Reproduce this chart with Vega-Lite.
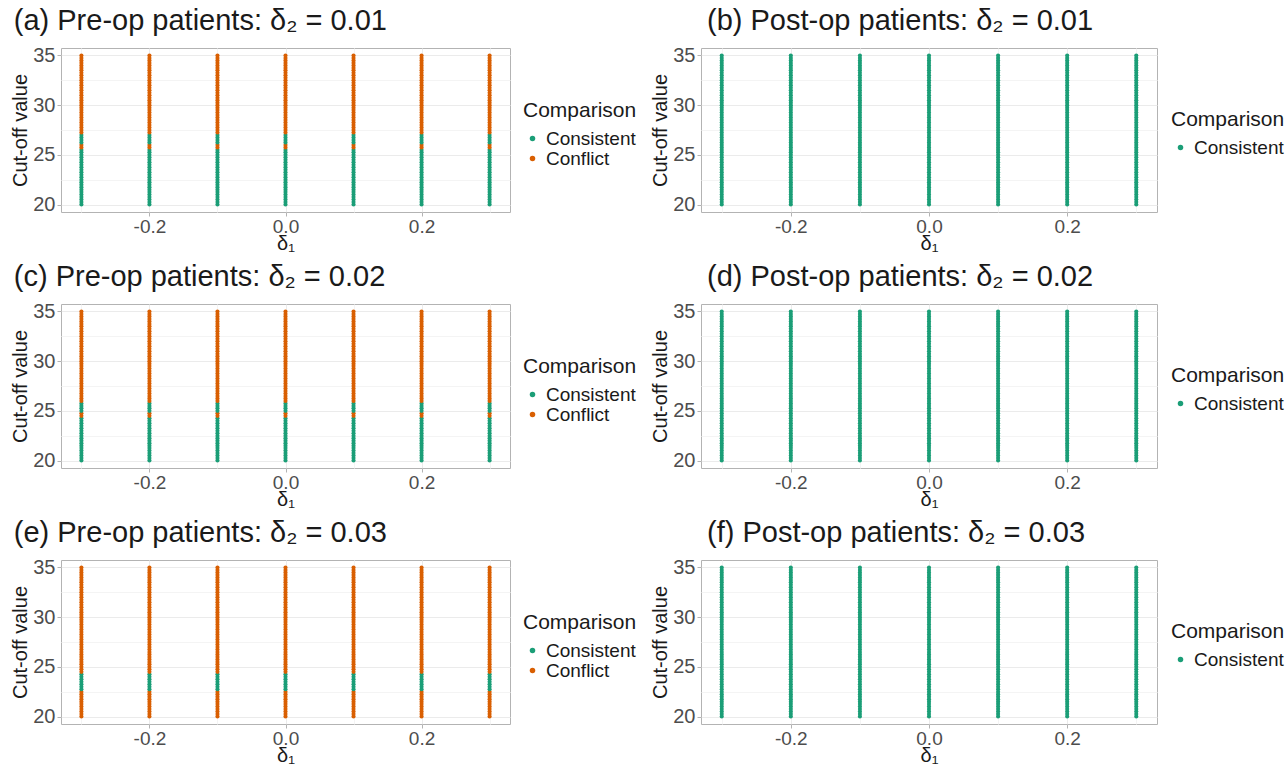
{
  "$schema": "https://vega.github.io/schema/vega-lite/v6.json",
  "padding": {"left": 10, "top": 6, "right": 0, "bottom": 0},
  "background": "white",
  "data": {"values": [
    {"panel": "a", "Comparison": "Consistent", "delta1": [-0.3, -0.2, -0.1, 0, 0.1, 0.2, 0.3], "cutoff": [20, 20.25, 20.5, 20.75, 21, 21.25, 21.5, 21.75, 22, 22.25, 22.5, 22.75, 23, 23.25, 23.5, 23.75, 24, 24.25, 24.5, 24.75, 25, 25.25, 25.5]},
    {"panel": "a", "Comparison": "Conflict", "delta1": [-0.3, -0.2, -0.1, 0, 0.1, 0.2, 0.3], "cutoff": [25.75, 26]},
    {"panel": "a", "Comparison": "Consistent", "delta1": [-0.3, -0.2, -0.1, 0, 0.1, 0.2, 0.3], "cutoff": [26.25, 26.5, 26.75, 27]},
    {"panel": "a", "Comparison": "Conflict", "delta1": [-0.3, -0.2, -0.1, 0, 0.1, 0.2, 0.3], "cutoff": [27.25, 27.5, 27.75, 28, 28.25, 28.5, 28.75, 29, 29.25, 29.5, 29.75, 30, 30.25, 30.5, 30.75, 31, 31.25, 31.5, 31.75, 32, 32.25, 32.5, 32.75, 33, 33.25, 33.5, 33.75, 34, 34.25, 34.5, 34.75, 35]},
    {"panel": "c", "Comparison": "Consistent", "delta1": [-0.3, -0.2, -0.1, 0, 0.1, 0.2, 0.3], "cutoff": [20, 20.25, 20.5, 20.75, 21, 21.25, 21.5, 21.75, 22, 22.25, 22.5, 22.75, 23, 23.25, 23.5, 23.75, 24, 24.25]},
    {"panel": "c", "Comparison": "Conflict", "delta1": [-0.3, -0.2, -0.1, 0, 0.1, 0.2, 0.3], "cutoff": [24.5, 24.75]},
    {"panel": "c", "Comparison": "Consistent", "delta1": [-0.3, -0.2, -0.1, 0, 0.1, 0.2, 0.3], "cutoff": [25, 25.25, 25.5, 25.75]},
    {"panel": "c", "Comparison": "Conflict", "delta1": [-0.3, -0.2, -0.1, 0, 0.1, 0.2, 0.3], "cutoff": [26, 26.25, 26.5, 26.75, 27, 27.25, 27.5, 27.75, 28, 28.25, 28.5, 28.75, 29, 29.25, 29.5, 29.75, 30, 30.25, 30.5, 30.75, 31, 31.25, 31.5, 31.75, 32, 32.25, 32.5, 32.75, 33, 33.25, 33.5, 33.75, 34, 34.25, 34.5, 34.75, 35]},
    {"panel": "e", "Comparison": "Conflict", "delta1": [-0.3, -0.2, -0.1, 0, 0.1, 0.2, 0.3], "cutoff": [20, 20.25, 20.5, 20.75, 21, 21.25, 21.5, 21.75, 22, 22.25, 22.5]},
    {"panel": "e", "Comparison": "Consistent", "delta1": [-0.3, -0.2, -0.1, 0, 0.1, 0.2, 0.3], "cutoff": [22.75, 23, 23.25, 23.5, 23.75, 24, 24.25]},
    {"panel": "e", "Comparison": "Conflict", "delta1": [-0.3, -0.2, -0.1, 0, 0.1, 0.2, 0.3], "cutoff": [24.5, 24.75, 25, 25.25, 25.5, 25.75, 26, 26.25, 26.5, 26.75, 27, 27.25, 27.5, 27.75, 28, 28.25, 28.5, 28.75, 29, 29.25, 29.5, 29.75, 30, 30.25, 30.5, 30.75, 31, 31.25, 31.5, 31.75, 32, 32.25, 32.5, 32.75, 33, 33.25, 33.5, 33.75, 34, 34.25, 34.5, 34.75, 35]},
    {"panel": "b", "Comparison": "Consistent", "delta1": [-0.3, -0.2, -0.1, 0, 0.1, 0.2, 0.3], "cutoff": [20, 20.25, 20.5, 20.75, 21, 21.25, 21.5, 21.75, 22, 22.25, 22.5, 22.75, 23, 23.25, 23.5, 23.75, 24, 24.25, 24.5, 24.75, 25, 25.25, 25.5, 25.75, 26, 26.25, 26.5, 26.75, 27, 27.25, 27.5, 27.75, 28, 28.25, 28.5, 28.75, 29, 29.25, 29.5, 29.75, 30, 30.25, 30.5, 30.75, 31, 31.25, 31.5, 31.75, 32, 32.25, 32.5, 32.75, 33, 33.25, 33.5, 33.75, 34, 34.25, 34.5, 34.75, 35]},
    {"panel": "d", "Comparison": "Consistent", "delta1": [-0.3, -0.2, -0.1, 0, 0.1, 0.2, 0.3], "cutoff": [20, 20.25, 20.5, 20.75, 21, 21.25, 21.5, 21.75, 22, 22.25, 22.5, 22.75, 23, 23.25, 23.5, 23.75, 24, 24.25, 24.5, 24.75, 25, 25.25, 25.5, 25.75, 26, 26.25, 26.5, 26.75, 27, 27.25, 27.5, 27.75, 28, 28.25, 28.5, 28.75, 29, 29.25, 29.5, 29.75, 30, 30.25, 30.5, 30.75, 31, 31.25, 31.5, 31.75, 32, 32.25, 32.5, 32.75, 33, 33.25, 33.5, 33.75, 34, 34.25, 34.5, 34.75, 35]},
    {"panel": "f", "Comparison": "Consistent", "delta1": [-0.3, -0.2, -0.1, 0, 0.1, 0.2, 0.3], "cutoff": [20, 20.25, 20.5, 20.75, 21, 21.25, 21.5, 21.75, 22, 22.25, 22.5, 22.75, 23, 23.25, 23.5, 23.75, 24, 24.25, 24.5, 24.75, 25, 25.25, 25.5, 25.75, 26, 26.25, 26.5, 26.75, 27, 27.25, 27.5, 27.75, 28, 28.25, 28.5, 28.75, 29, 29.25, 29.5, 29.75, 30, 30.25, 30.5, 30.75, 31, 31.25, 31.5, 31.75, 32, 32.25, 32.5, 32.75, 33, 33.25, 33.5, 33.75, 34, 34.25, 34.5, 34.75, 35]}
  ]},
  "vconcat": [
    {"hconcat": [
      {"title": {"text": "(a) Pre-op patients: δ₂ = 0.01", "frame": "bounds", "dx": 3},
       "width": 449, "height": 164,
       "transform": [{"filter": "datum.panel == 'a'"}, {"flatten": ["delta1"]}, {"flatten": ["cutoff"]}],
       "mark": {"type": "circle", "size": 17, "opacity": 1},
       "encoding": {
         "x": {"field": "delta1", "type": "quantitative", "scale": {"domain": [-0.33, 0.33], "nice": false, "zero": false}, "axis": {"title": "δ₁", "values": [-0.3, -0.2, -0.1, 0, 0.1, 0.2, 0.3], "labelExpr": "abs(round(datum.value*10)) % 2 == 0 ? replace(format(datum.value, '.1f'), '−', '-') : ''", "gridColor": {"condition": {"test": "abs(round(datum.value*10)) % 2 == 0", "value": "#ebebeb"}, "value": "#f4f4f4"}, "tickOpacity": {"condition": {"test": "abs(round(datum.value*10)) % 2 == 0", "value": 1}, "value": 0}}},
         "y": {"field": "cutoff", "type": "quantitative", "scale": {"domain": [19.25, 35.75], "nice": false, "zero": false}, "axis": {"title": "Cut-off value", "values": [20, 22.5, 25, 27.5, 30, 32.5, 35], "labelExpr": "datum.value % 5 == 0 ? datum.label : ''", "gridColor": {"condition": {"test": "datum.value % 5 == 0", "value": "#ebebeb"}, "value": "#f4f4f4"}, "tickOpacity": {"condition": {"test": "datum.value % 5 == 0", "value": 1}, "value": 0}}},
         "color": {"field": "Comparison", "type": "nominal", "scale": {"domain": ["Consistent", "Conflict"], "range": ["#1B9E77", "#D95F02"]}, "legend": {"orient": "none", "legendX": 462, "legendY": 52}}
       }},
      {"title": {"text": "(b) Post-op patients: δ₂ = 0.01", "frame": "group", "dx": 6},
       "width": 456, "height": 164,
       "transform": [{"filter": "datum.panel == 'b'"}, {"flatten": ["delta1"]}, {"flatten": ["cutoff"]}],
       "mark": {"type": "circle", "size": 17, "opacity": 1},
       "encoding": {
         "x": {"field": "delta1", "type": "quantitative", "scale": {"domain": [-0.33, 0.33], "nice": false, "zero": false}, "axis": {"title": "δ₁", "values": [-0.3, -0.2, -0.1, 0, 0.1, 0.2, 0.3], "labelExpr": "abs(round(datum.value*10)) % 2 == 0 ? replace(format(datum.value, '.1f'), '−', '-') : ''", "gridColor": {"condition": {"test": "abs(round(datum.value*10)) % 2 == 0", "value": "#ebebeb"}, "value": "#f4f4f4"}, "tickOpacity": {"condition": {"test": "abs(round(datum.value*10)) % 2 == 0", "value": 1}, "value": 0}}},
         "y": {"field": "cutoff", "type": "quantitative", "scale": {"domain": [19.25, 35.75], "nice": false, "zero": false}, "axis": {"title": "Cut-off value", "values": [20, 22.5, 25, 27.5, 30, 32.5, 35], "labelExpr": "datum.value % 5 == 0 ? datum.label : ''", "gridColor": {"condition": {"test": "datum.value % 5 == 0", "value": "#ebebeb"}, "value": "#f4f4f4"}, "tickOpacity": {"condition": {"test": "datum.value % 5 == 0", "value": 1}, "value": 0}}},
         "color": {"field": "Comparison", "type": "nominal", "scale": {"domain": ["Consistent"], "range": ["#1B9E77"]}, "legend": {"orient": "none", "legendX": 470, "legendY": 61}}
       }}
    ], "resolve": {"scale": {"color": "independent"}, "legend": {"color": "independent"}}},
    {"hconcat": [
      {"title": {"text": "(c) Pre-op patients: δ₂ = 0.02", "frame": "bounds", "dx": 3},
       "width": 449, "height": 164,
       "transform": [{"filter": "datum.panel == 'c'"}, {"flatten": ["delta1"]}, {"flatten": ["cutoff"]}],
       "mark": {"type": "circle", "size": 17, "opacity": 1},
       "encoding": {
         "x": {"field": "delta1", "type": "quantitative", "scale": {"domain": [-0.33, 0.33], "nice": false, "zero": false}, "axis": {"title": "δ₁", "values": [-0.3, -0.2, -0.1, 0, 0.1, 0.2, 0.3], "labelExpr": "abs(round(datum.value*10)) % 2 == 0 ? replace(format(datum.value, '.1f'), '−', '-') : ''", "gridColor": {"condition": {"test": "abs(round(datum.value*10)) % 2 == 0", "value": "#ebebeb"}, "value": "#f4f4f4"}, "tickOpacity": {"condition": {"test": "abs(round(datum.value*10)) % 2 == 0", "value": 1}, "value": 0}}},
         "y": {"field": "cutoff", "type": "quantitative", "scale": {"domain": [19.25, 35.75], "nice": false, "zero": false}, "axis": {"title": "Cut-off value", "values": [20, 22.5, 25, 27.5, 30, 32.5, 35], "labelExpr": "datum.value % 5 == 0 ? datum.label : ''", "gridColor": {"condition": {"test": "datum.value % 5 == 0", "value": "#ebebeb"}, "value": "#f4f4f4"}, "tickOpacity": {"condition": {"test": "datum.value % 5 == 0", "value": 1}, "value": 0}}},
         "color": {"field": "Comparison", "type": "nominal", "scale": {"domain": ["Consistent", "Conflict"], "range": ["#1B9E77", "#D95F02"]}, "legend": {"orient": "none", "legendX": 462, "legendY": 52}}
       }},
      {"title": {"text": "(d) Post-op patients: δ₂ = 0.02", "frame": "group", "dx": 6},
       "width": 456, "height": 164,
       "transform": [{"filter": "datum.panel == 'd'"}, {"flatten": ["delta1"]}, {"flatten": ["cutoff"]}],
       "mark": {"type": "circle", "size": 17, "opacity": 1},
       "encoding": {
         "x": {"field": "delta1", "type": "quantitative", "scale": {"domain": [-0.33, 0.33], "nice": false, "zero": false}, "axis": {"title": "δ₁", "values": [-0.3, -0.2, -0.1, 0, 0.1, 0.2, 0.3], "labelExpr": "abs(round(datum.value*10)) % 2 == 0 ? replace(format(datum.value, '.1f'), '−', '-') : ''", "gridColor": {"condition": {"test": "abs(round(datum.value*10)) % 2 == 0", "value": "#ebebeb"}, "value": "#f4f4f4"}, "tickOpacity": {"condition": {"test": "abs(round(datum.value*10)) % 2 == 0", "value": 1}, "value": 0}}},
         "y": {"field": "cutoff", "type": "quantitative", "scale": {"domain": [19.25, 35.75], "nice": false, "zero": false}, "axis": {"title": "Cut-off value", "values": [20, 22.5, 25, 27.5, 30, 32.5, 35], "labelExpr": "datum.value % 5 == 0 ? datum.label : ''", "gridColor": {"condition": {"test": "datum.value % 5 == 0", "value": "#ebebeb"}, "value": "#f4f4f4"}, "tickOpacity": {"condition": {"test": "datum.value % 5 == 0", "value": 1}, "value": 0}}},
         "color": {"field": "Comparison", "type": "nominal", "scale": {"domain": ["Consistent"], "range": ["#1B9E77"]}, "legend": {"orient": "none", "legendX": 470, "legendY": 61}}
       }}
    ], "resolve": {"scale": {"color": "independent"}, "legend": {"color": "independent"}}},
    {"hconcat": [
      {"title": {"text": "(e) Pre-op patients: δ₂ = 0.03", "frame": "bounds", "dx": 3},
       "width": 449, "height": 164,
       "transform": [{"filter": "datum.panel == 'e'"}, {"flatten": ["delta1"]}, {"flatten": ["cutoff"]}],
       "mark": {"type": "circle", "size": 17, "opacity": 1},
       "encoding": {
         "x": {"field": "delta1", "type": "quantitative", "scale": {"domain": [-0.33, 0.33], "nice": false, "zero": false}, "axis": {"title": "δ₁", "values": [-0.3, -0.2, -0.1, 0, 0.1, 0.2, 0.3], "labelExpr": "abs(round(datum.value*10)) % 2 == 0 ? replace(format(datum.value, '.1f'), '−', '-') : ''", "gridColor": {"condition": {"test": "abs(round(datum.value*10)) % 2 == 0", "value": "#ebebeb"}, "value": "#f4f4f4"}, "tickOpacity": {"condition": {"test": "abs(round(datum.value*10)) % 2 == 0", "value": 1}, "value": 0}}},
         "y": {"field": "cutoff", "type": "quantitative", "scale": {"domain": [19.25, 35.75], "nice": false, "zero": false}, "axis": {"title": "Cut-off value", "values": [20, 22.5, 25, 27.5, 30, 32.5, 35], "labelExpr": "datum.value % 5 == 0 ? datum.label : ''", "gridColor": {"condition": {"test": "datum.value % 5 == 0", "value": "#ebebeb"}, "value": "#f4f4f4"}, "tickOpacity": {"condition": {"test": "datum.value % 5 == 0", "value": 1}, "value": 0}}},
         "color": {"field": "Comparison", "type": "nominal", "scale": {"domain": ["Consistent", "Conflict"], "range": ["#1B9E77", "#D95F02"]}, "legend": {"orient": "none", "legendX": 462, "legendY": 52}}
       }},
      {"title": {"text": "(f) Post-op patients: δ₂ = 0.03", "frame": "group", "dx": 6},
       "width": 456, "height": 164,
       "transform": [{"filter": "datum.panel == 'f'"}, {"flatten": ["delta1"]}, {"flatten": ["cutoff"]}],
       "mark": {"type": "circle", "size": 17, "opacity": 1},
       "encoding": {
         "x": {"field": "delta1", "type": "quantitative", "scale": {"domain": [-0.33, 0.33], "nice": false, "zero": false}, "axis": {"title": "δ₁", "values": [-0.3, -0.2, -0.1, 0, 0.1, 0.2, 0.3], "labelExpr": "abs(round(datum.value*10)) % 2 == 0 ? replace(format(datum.value, '.1f'), '−', '-') : ''", "gridColor": {"condition": {"test": "abs(round(datum.value*10)) % 2 == 0", "value": "#ebebeb"}, "value": "#f4f4f4"}, "tickOpacity": {"condition": {"test": "abs(round(datum.value*10)) % 2 == 0", "value": 1}, "value": 0}}},
         "y": {"field": "cutoff", "type": "quantitative", "scale": {"domain": [19.25, 35.75], "nice": false, "zero": false}, "axis": {"title": "Cut-off value", "values": [20, 22.5, 25, 27.5, 30, 32.5, 35], "labelExpr": "datum.value % 5 == 0 ? datum.label : ''", "gridColor": {"condition": {"test": "datum.value % 5 == 0", "value": "#ebebeb"}, "value": "#f4f4f4"}, "tickOpacity": {"condition": {"test": "datum.value % 5 == 0", "value": 1}, "value": 0}}},
         "color": {"field": "Comparison", "type": "nominal", "scale": {"domain": ["Consistent"], "range": ["#1B9E77"]}, "legend": {"orient": "none", "legendX": 470, "legendY": 61}}
       }}
    ], "resolve": {"scale": {"color": "independent"}, "legend": {"color": "independent"}}}
  ],
  "resolve": {"scale": {"color": "independent"}, "legend": {"color": "independent"}},
  "spacing": 8,
  "config": {
    "font": "Liberation Sans",
    "view": {"stroke": "#b3b3b3", "strokeWidth": 1},
    "concat": {"spacing": 12},
    "axis": {"domain": false, "labelFontSize": 20, "labelColor": "#4d4d4d", "titleFontSize": 20, "titleFontWeight": "normal", "titleColor": "#1a1a1a", "tickColor": "#b3b3b3", "tickSize": 4, "labelPadding": 5, "gridWidth": 1},
    "axisX": {"titleFontSize": 20, "titlePadding": -3, "labelPadding": 1, "labelFontSize": 19},
    "axisY": {"titlePadding": 2, "labelPadding": 2},
    "legend": {"titleFontSize": 21, "titleFontWeight": "normal", "titleColor": "#1a1a1a", "labelFontSize": 19, "labelColor": "#1a1a1a", "symbolType": "circle", "symbolSize": 30, "rowPadding": 0, "titlePadding": 8},
    "title": {"fontSize": 29, "fontWeight": "normal", "anchor": "start", "color": "#1a1a1a", "offset": 9}
  }
}
